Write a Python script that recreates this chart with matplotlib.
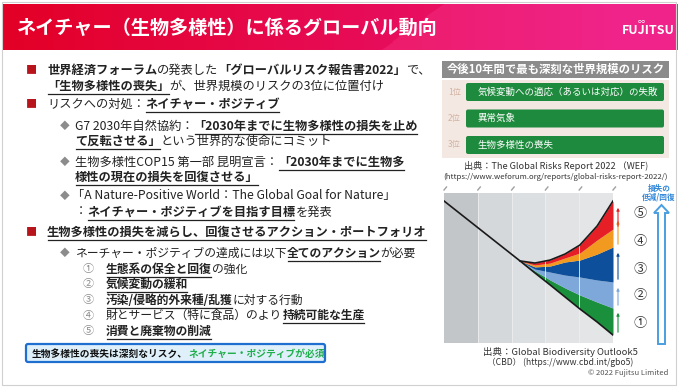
import numpy as np
import matplotlib.pyplot as plt
from matplotlib.patches import Rectangle, FancyBboxPatch, Polygon

JP = ['Noto Sans CJK JP', 'DejaVu Sans']
plt.rcParams['font.family'] = JP

# --- biodiversity outlook curves (x: 5 time columns, y: 0-100) ---
trend_x = [0.0, 2.25]
trend_y = [94.7, 54.7]
xs = [2.25, 2.69, 3.14, 3.58, 4.02, 4.53, 5.0]
base = [54.7, 46.7, 38.7, 30.7, 22.7, 14.0, 5.3]
green_top = [54.7, 48.0, 42.0, 36.7, 32.0, 27.3, 23.3]
lblue_top = [54.7, 49.3, 47.3, 45.3, 44.0, 42.0, 40.7]
blue_top = [54.7, 50.7, 51.3, 54.0, 55.3, 59.3, 64.0]
orange_top = [54.7, 52.0, 53.3, 56.7, 60.0, 68.7, 76.0]
red_top = [54.7, 53.3, 55.3, 59.3, 65.3, 78.0, 94.7]
band_colors = ['#1a8f3c', '#7ea8da', '#0d4f9a', '#f29a1f', '#e61f26']
col_colors = ['#c3c6c9', '#d5d8db', '#dcdfe1', '#e1e3e5', '#e3e5e7']
circled = ['①', '②', '③', '④', '⑤']

# --- WEF top risks ---
ranks = ['1位', '2位', '3位']
risks = ['気候変動への適応（あるいは対応）の失敗', '異常気象', '生物多様性の喪失']

fig = plt.figure(figsize=(6.78, 3.87), dpi=100)
ax = fig.add_axes([0, 0, 1, 1])
ax.set_xlim(0, 678)
ax.set_ylim(387, 0)
ax.axis('off')
r = fig.canvas.get_renderer()

# title bar
W, H = 400, 40
gx = np.linspace(0, 1, W)[None, :]
gy = np.linspace(0, 1, H)[:, None]
c0 = np.array([0.89, 0.0, 0.15])
c1 = np.array([0.92, 0.08, 0.48])
t = np.clip(gx * 1.1, 0, 1)
img = c0 + (c1 - c0) * t[..., None] * np.ones((H, 1, 1))
diag = (gx * 675 + gy * 60) > 440
img = np.where(diag[..., None], np.clip(img + np.array([0.02, 0.06, 0.06]), 0, 1), img)
ax.imshow(img, extent=[3, 678, 50, 4], aspect='auto', zorder=0)
ax.set_xlim(0, 678)
ax.set_ylim(387, 0)
ax.text(17, 28, 'ネイチャー（生物多様性）に係るグローバル動向', color='white',
        fontsize=13.8, fontweight='bold', va='center', ha='left')
ax.text(648, 31, 'FUJITSU', color='white', fontsize=9, fontweight='bold', va='center', ha='center')
ax.text(641, 21, '∞', color='white', fontsize=5, va='center', ha='center')
ax.add_patch(Rectangle((2, 2), 674, 383, fill=False, ec='#d0d0d0', lw=0.8))


def parts_line(x, y, parts, size=8.8):
    for s, bold, ul in parts:
        tx = ax.text(x, y, s, fontsize=size, fontweight='bold' if bold else 'normal',
                     color='#222222', va='center', ha='left')
        w = tx.get_window_extent(r).width
        if ul:
            ax.plot([x + 1, x + w - 1], [y + 7.5, y + 7.5], color='#222222', lw=0.9)
        x += w


RED = '#b8141c'
GRAY = '#8c8c8c'

ax.text(31, 70, '■', color=RED, fontsize=8, va='center', ha='center')
parts_line(47, 70, [('世界経済フォーラム', True, False), ('の発表した', False, False),
                    ('「グローバルリスク報告書2022」', True, False), ('で、', False, False)])
parts_line(47, 86, [('「生物多様性の喪失」', True, True), ('が、世界規模のリスクの3位に位置付け', False, False)])
ax.text(31, 104, '■', color=RED, fontsize=8, va='center', ha='center')
parts_line(47, 104, [('リスクへの対処：', False, False), ('ネイチャー・ポジティブ', True, True)])

ax.text(65, 126, '◆', color=GRAY, fontsize=7, va='center', ha='center')
parts_line(75, 126, [('G7 2030年自然協約：', False, False), ('「2030年までに生物多様性の損失を止め', True, True)])
parts_line(75, 141, [('て反転させる」', True, True), ('という世界的な使命にコミット', False, False)])
ax.text(65, 162, '◆', color=GRAY, fontsize=7, va='center', ha='center')
parts_line(75, 162, [('生物多様性COP15 第一部 昆明宣言：', False, False), ('「2030年までに生物多', True, True)])
parts_line(75, 177, [('様性の現在の損失を回復させる」', True, True)])
ax.text(65, 196, '◆', color=GRAY, fontsize=7, va='center', ha='center')
parts_line(72, 196, [('「A Nature-Positive World：The Global Goal for Nature」', False, False)])
parts_line(75, 212, [('：', False, False), ('ネイチャー・ポジティブを目指す目標', True, True), ('を発表', False, False)])

ax.text(31, 232, '■', color=RED, fontsize=8, va='center', ha='center')
parts_line(47, 232, [('生物多様性の損失を減らし、回復させるアクション・ポートフォリオ', True, True)])
ax.text(65, 253, '◆', color=GRAY, fontsize=7, va='center', ha='center')
parts_line(75, 253, [('ネーチャー・ポジティブの達成には以下', False, False), ('全てのアクション', True, True),
                     ('が必要', False, False)], size=8.5)

items = [
    [('生態系の保全と回復', True, True), ('の強化', False, False)],
    [('気候変動の緩和', True, True)],
    [('汚染/侵略的外来種/乱獲', True, True), ('に対する行動', False, False)],
    [('財とサービス（特に食品）のより', False, False), ('持続可能な生産', True, True)],
    [('消費と廃棄物の削減', True, True)],
]
for i, it in enumerate(items):
    yy = 269 + i * 15.5
    ax.text(88, yy, circled[i], color=GRAY, fontsize=8, va='center', ha='center')
    parts_line(106, yy, it, size=8.5)

ax.add_patch(FancyBboxPatch((26, 344), 299, 18, boxstyle='round,pad=0,rounding_size=2',
                            fc='#dff0fb', ec='#1f6fd0', lw=1.6))
tx = ax.text(32, 353.5, '生物多様性の喪失は深刻なリスク、', fontsize=7.0, fontweight='bold',
             color='#111111', va='center', ha='left')
w = tx.get_window_extent(r).width
ax.text(32 + w, 353.5, 'ネイチャー・ポジティブが必須', fontsize=7.0, fontweight='bold',
        color='#1fae4a', va='center', ha='left')

# --- WEF risk ranking panel ---
ax.add_patch(Rectangle((442, 61), 227, 17, fc='#8b8b8b', ec='none'))
ax.text(555.5, 69.5, '今後10年間で最も深刻な世界規模のリスク', color='white', fontsize=8.2,
        fontweight='bold', va='center', ha='center')
ax.add_patch(Rectangle((442, 80), 227, 78, fc='#f4e8e3', ec='none'))
for i, (rk, rs) in enumerate(zip(ranks, risks)):
    y0 = 83 + i * 26.5
    ax.text(448, y0 + 9, rk, color='#d2b3a2', fontsize=6, va='center', ha='left')
    ax.add_patch(FancyBboxPatch((466, y0), 198, 18, boxstyle='round,pad=0,rounding_size=2',
                                fc='#1e8a3d', ec='none'))
    ax.text(478, y0 + 9, rs, color='white', fontsize=6.8, va='center', ha='left')
ax.text(556, 166, '出典：The Global Risks Report 2022 （WEF)', color='#333333', fontsize=6.6,
        va='center', ha='center')
ax.text(556, 177, '(https://www.weforum.org/reports/global-risks-report-2022/)', color='#333333',
        fontsize=5.6, va='center', ha='center')

# --- Global Biodiversity Outlook chart ---
cax = fig.add_axes([444 / 678, (387 - 343) / 387, 169 / 678, 150 / 387])
for i, c in enumerate(col_colors):
    cax.axvspan(i, i + 1, color=c, lw=0)
    if i > 0:
        cax.axvline(i, color='#eceeef', lw=0.6)
bounds = [base, green_top, lblue_top, blue_top, orange_top, red_top]
for k, c in enumerate(band_colors):
    cax.fill_between(xs, bounds[k], bounds[k + 1], color=c, lw=0)
cax.plot(trend_x + xs, trend_y + base, color='#1a1a1a', lw=1.2)
cax.plot(xs, red_top, color='#1a1a1a', lw=1.2)
cax.set_xlim(0, 5)
cax.set_ylim(0, 100)
cax.axis('off')

for i in range(6):
    px = 445 + 33.8 * i
    ax.plot([px - 1, px + 1.5], [190, 187], color='#a0a0a0', lw=1)

# small colour arrows next to the chart
arr = [(335, 310), (308, 285), (282, 250), (247, 218), (229, 205)]
for (y1, y2), c in zip(arr, band_colors):
    ax.annotate('', xy=(618, y2), xytext=(618, y1),
                arrowprops=dict(arrowstyle='-|>', color=c, lw=0.8, mutation_scale=4))
for i, yy in enumerate([323, 296, 269, 242, 214]):
    ax.text(640, yy, circled[i], color='#333333', fontsize=9.5, va='center', ha='center')

ax.add_patch(Polygon([(658, 344), (658, 213), (654, 213), (661.5, 205), (669, 213), (665, 213), (665, 344)],
                     closed=True, fc='white', ec='#4a9fe0', lw=1.4))
ax.text(659, 188, '損失の', color='#2f86d8', fontsize=5.5, fontweight='bold', va='center', ha='center')
ax.text(659, 197, '低減/回復', color='#2f86d8', fontsize=5.5, fontweight='bold', va='center', ha='center')

ax.text(560, 352, '出典：Global Biodiversity Outlook5', color='#333333', fontsize=6.8,
        va='center', ha='center')
ax.text(560, 362, '（CBD） (https://www.cbd.int/gbo5)', color='#333333', fontsize=6.2,
        va='center', ha='center')
ax.text(668, 373, '© 2022 Fujitsu Limited', color='#555555', fontsize=5.5, va='center', ha='right')

fig.savefig('out.png', dpi=100)
